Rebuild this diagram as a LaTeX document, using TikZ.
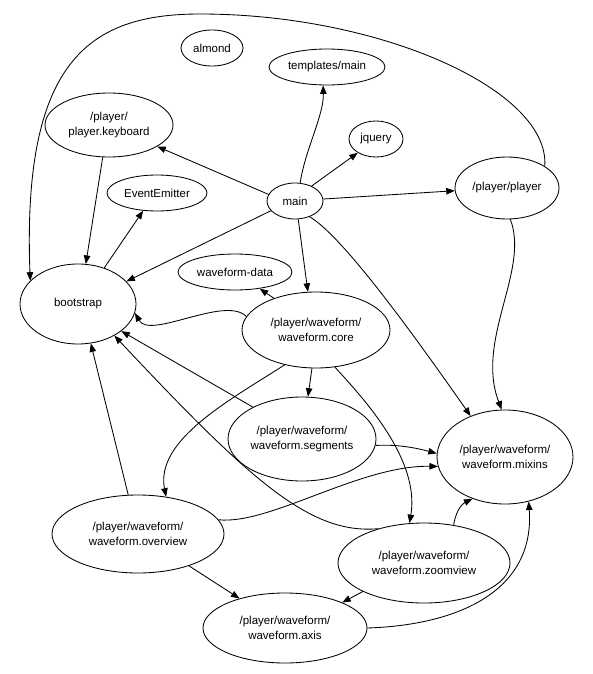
\documentclass[tikz,border=0pt]{standalone}
\usepackage{fontspec}
\setmainfont{Liberation Sans}
\usetikzlibrary{shapes.geometric,arrows.meta}
\begin{document}
\begin{tikzpicture}[x=1pt,y=1pt,
  dep/.style={ellipse,draw,line width=0.85pt,inner sep=0pt,align=center,
    font=\fontsize{11.5}{14.5}\selectfont},
  edge/.style={line width=0.85pt,-{Triangle[length=8.5pt,width=6.5pt]}}]
\useasboundingbox (0,0) rectangle (592,-674);
\node[dep,minimum width=62pt,minimum height=36pt] (almond) at (212,-48) {almond};
\node[dep,minimum width=116pt,minimum height=36pt] (tmain) at (327,-67) {templates/main};
\node[dep,minimum width=54pt,minimum height=36pt] (jquery) at (376,-139) {jquery};
\node[dep,minimum width=128pt,minimum height=64pt] (kbd) at (109,-125) {/player/\\player.keyboard};
\node[dep,minimum width=100pt,minimum height=36pt] (ee) at (157,-193) {EventEmitter};
\node[dep,minimum width=56pt,minimum height=36pt] (main) at (295,-201) {main};
\node[dep,minimum width=104pt,minimum height=62pt] (player) at (507,-188) {/player/player};
\node[dep,minimum width=116pt,minimum height=80pt] (boot) at (78,-304) {bootstrap};
\node[dep,minimum width=114pt,minimum height=36pt] (wdata) at (235,-272) {waveform-data};
\node[dep,minimum width=148pt,minimum height=76pt] (core) at (316,-330) {/player/waveform/\\waveform.core};
\node[dep,minimum width=148pt,minimum height=84pt] (seg) at (302,-439) {/player/waveform/\\waveform.segments};
\node[dep,minimum width=136pt,minimum height=94pt] (mix) at (505,-457) {/player/waveform/\\waveform.mixins};
\node[dep,minimum width=172pt,minimum height=78pt] (ov) at (138,-534) {/player/waveform/\\waveform.overview};
\node[dep,minimum width=172pt,minimum height=80pt] (zv) at (424,-563) {/player/waveform/\\waveform.zoomview};
\node[dep,minimum width=164pt,minimum height=70pt] (axis) at (285,-628) {/player/waveform/\\waveform.axis};

\draw[edge] (main.74) .. controls (305,-150) and (324,-115) .. (tmain.258);
\draw[edge] (main.42) -- (jquery.217);
\draw[edge] (main.4) -- (player.183);
\draw[edge] (main.166) -- (kbd.-24);
\draw[edge] (main.202) -- (boot.25);
\draw[edge] (main.280) -- (core.102);
\draw[edge] (main.313) .. controls (340,-235) and (400,-315) .. (mix.130);
\draw[edge] (player.30) .. controls (550,-90) and (380,-14) .. (200,-14)
   .. controls (90,-14) and (22,-60) .. (boot.154);
\draw[edge] (player.276) .. controls (530,-270) and (475,-340) .. (mix.94);
\draw[edge] (kbd.259) -- (boot.79);
\draw[edge] (boot.54) -- (ee.232);
\draw[edge] (core.143) -- (wdata.-34);
\draw[edge] (core.169) .. controls (225,-295) and (150,-340) .. (boot.-9);
\draw[edge] (core.264) -- (seg.82);
\draw[edge] (core.228) .. controls (230,-400) and (155,-440) .. (ov.53);
\draw[edge] (core.-63) .. controls (365,-400) and (420,-460) .. (zv.110);
\draw[edge] (seg.147) -- (boot.-32);
\draw[edge] (seg.-5) .. controls (400,-444) and (420,-449) .. (mix.177);
\draw[edge] (ov.104) -- (boot.-72);
\draw[edge] (ov.10) .. controls (270,-525) and (360,-465) .. (mix.188);
\draw[edge] (ov.-32) -- (axis.147);
\draw[edge] (zv.143) .. controls (310,-535) and (250,-480) .. (boot.-41);
\draw[edge] (zv.52) .. controls (455,-515) and (460,-505) .. (mix.232);
\draw[edge] (zv.205) -- (axis.24);
\draw[edge] (axis.0) .. controls (460,-625) and (535,-590) .. (mix.-62);
\end{tikzpicture}
\end{document}
